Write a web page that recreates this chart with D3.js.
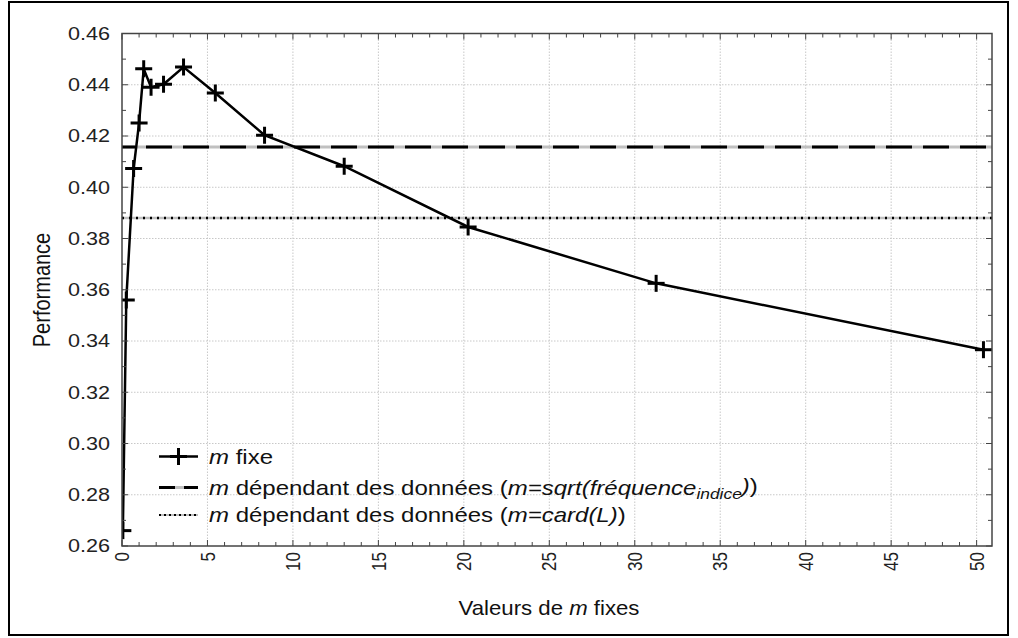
<!DOCTYPE html>
<html>
<head>
<meta charset="utf-8">
<script src="https://cdn.jsdelivr.net/npm/d3@7"></script>
<style>
  html, body { margin: 0; padding: 0; background: #fff; }
  svg { display: block; font-family: "Liberation Sans", Arial, sans-serif; }
</style>
</head>
<body>
<svg id="chart" width="1018" height="638"></svg>
<script>
// Performance for fixed values of m
const mValues = [0.05, 0.25, 0.68, 1.0, 1.27, 1.7, 2.43, 3.6, 5.46, 8.34, 13.0, 20.25, 31.25, 50.4];
const perfValues = [0.266, 0.356, 0.4073, 0.4251, 0.4462, 0.439, 0.4402, 0.4469, 0.4368, 0.4203, 0.4082, 0.3845, 0.3625, 0.3366];

// Data-dependent m: reference levels
const perfSqrt = 0.4157;
const perfCard = 0.388;

const xTicks = [0, 5, 10, 15, 20, 25, 30, 35, 40, 45, 50];
const yTicks = [0.26, 0.28, 0.30, 0.32, 0.34, 0.36, 0.38, 0.40, 0.42, 0.44, 0.46];

(function () {
const svg = d3.select("#chart");
// text in this figure is drawn slightly wide
const WIDE = 1.2;

// outer frame
svg.append("rect").attr("x", 9).attr("y", 2).attr("width", 999).attr("height", 633)
  .attr("fill", "#fff").attr("stroke", "#000").attr("stroke-width", 2);

const pLeft = 122, pRight = 992, pTop = 33.5, pBottom = 546;
const x = d3.scaleLinear().domain([0, 50.9]).range([pLeft, pRight]);
const y = d3.scaleLinear().domain([0.26, 0.46]).range([pBottom, pTop]);

// grid
const grid = svg.append("g");
grid.selectAll("line.gx").data(xTicks.slice(1)).join("line")
  .attr("x1", d => x(d)).attr("x2", d => x(d)).attr("y1", pTop).attr("y2", pBottom)
  .attr("stroke", "#c8c8c8").attr("stroke-width", 1).attr("stroke-dasharray", "1.5,1.5");
grid.selectAll("line.gy").data(yTicks.slice(1, -1)).join("line")
  .attr("y1", d => y(d)).attr("y2", d => y(d)).attr("x1", pLeft).attr("x2", pRight)
  .attr("stroke", "#c8c8c8").attr("stroke-width", 1).attr("stroke-dasharray", "1.5,1.5");

svg.append("clipPath").attr("id", "plotclip").append("rect")
  .attr("x", pLeft).attr("y", pTop).attr("width", pRight - pLeft).attr("height", pBottom - pTop);

const plot = svg.append("g").attr("clip-path", "url(#plotclip)");

// data-dependent m = sqrt(fréquence) : dashed
plot.append("line").attr("x1", pLeft).attr("x2", pRight).attr("y1", y(perfSqrt)).attr("y2", y(perfSqrt))
  .attr("stroke", "#c0c0c0").attr("stroke-width", 3);
plot.append("line").attr("x1", pLeft).attr("x2", pRight).attr("y1", y(perfSqrt)).attr("y2", y(perfSqrt))
  .attr("stroke", "#000").attr("stroke-width", 3).attr("stroke-dasharray", "26,11").attr("stroke-dashoffset", 13);

// data-dependent m = card(L) : dotted
plot.append("line").attr("x1", pLeft).attr("x2", pRight).attr("y1", y(perfCard)).attr("y2", y(perfCard))
  .attr("stroke", "#c0c0c0").attr("stroke-width", 2.5);
plot.append("line").attr("x1", pLeft).attr("x2", pRight).attr("y1", y(perfCard)).attr("y2", y(perfCard))
  .attr("stroke", "#000").attr("stroke-width", 2.5).attr("stroke-dasharray", "2,5");

// fixed m : line with plus markers
const pts = mValues.map((m, i) => [m, perfValues[i]]);
plot.append("path").datum(pts)
  .attr("d", d3.line().x(d => x(d[0])).y(d => y(d[1])))
  .attr("fill", "none").attr("stroke", "#000").attr("stroke-width", 2.5);
const markers = plot.selectAll("g.mk").data(pts).join("g")
  .attr("transform", d => `translate(${x(d[0])},${y(d[1])})`);
markers.append("line").attr("x1", -8.5).attr("x2", 8.5).attr("stroke", "#000").attr("stroke-width", 3);
markers.append("line").attr("y1", -8.5).attr("y2", 8.5).attr("stroke", "#000").attr("stroke-width", 3);

// axes frame with inward ticks on all sides
const frameColor = "#444";
svg.append("rect").attr("x", pLeft).attr("y", pTop).attr("width", pRight - pLeft).attr("height", pBottom - pTop)
  .attr("fill", "none").attr("stroke", frameColor).attr("stroke-width", 1.5);

const xMinor = d3.range(0, 51, 1);
const yMinor = d3.range(0, 21).map(i => 0.26 + i * 0.01);
const tickG = svg.append("g").attr("stroke", frameColor).attr("stroke-width", 1);
tickG.selectAll("line.xb").data(xMinor).join("line")
  .attr("x1", d => x(d)).attr("x2", d => x(d)).attr("y1", pBottom).attr("y2", d => pBottom - (d % 5 === 0 ? 6 : 4));
tickG.selectAll("line.xt").data(xMinor).join("line")
  .attr("x1", d => x(d)).attr("x2", d => x(d)).attr("y1", pTop).attr("y2", d => pTop + (d % 5 === 0 ? 6 : 4));
tickG.selectAll("line.yl").data(yMinor).join("line")
  .attr("y1", d => y(d)).attr("y2", d => y(d)).attr("x1", pLeft).attr("x2", (d, i) => pLeft + (i % 2 === 0 ? 6 : 4));
tickG.selectAll("line.yr").data(yMinor).join("line")
  .attr("y1", d => y(d)).attr("y2", d => y(d)).attr("x1", pRight).attr("x2", (d, i) => pRight - (i % 2 === 0 ? 6 : 4));

// tick labels
svg.append("g").selectAll("text").data(yTicks).join("text")
  .attr("transform", d => `translate(110,${y(d)}) scale(${WIDE},1)`)
  .attr("dy", "0.35em")
  .attr("text-anchor", "end").attr("font-size", 18).attr("fill", "#222")
  .text(d => d.toFixed(2));
svg.append("g").selectAll("text").data(xTicks).join("text")
  .attr("transform", d => `translate(${x(d)},552) scale(${WIDE},1) rotate(-90)`)
  .attr("dy", "0.35em").attr("text-anchor", "end").attr("font-size", 17).attr("fill", "#222")
  .text(d => d);

// axis titles
const xt = svg.append("text").attr("transform", "translate(549,615) scale(1.11,1)").attr("text-anchor", "middle")
  .attr("font-size", 20).attr("fill", "#111");
xt.append("tspan").text("Valeurs de ");
xt.append("tspan").attr("font-style", "italic").text("m");
xt.append("tspan").text(" fixes");

svg.append("text").attr("transform", `translate(42,290) scale(${WIDE},1) rotate(-90)`).attr("text-anchor", "middle")
  .attr("dy", "0.35em").attr("font-size", 20).attr("fill", "#111").text("Performance");

// legend
const lg = svg.append("g");
const lx0 = 159, lx1 = 198, tx = 209;
const rows = [456.5, 487.5, 515];

lg.append("line").attr("x1", lx0).attr("x2", lx1).attr("y1", rows[0]).attr("y2", rows[0])
  .attr("stroke", "#000").attr("stroke-width", 2.5);
lg.append("line").attr("x1", (lx0 + lx1) / 2 - 8.5).attr("x2", (lx0 + lx1) / 2 + 8.5).attr("y1", rows[0]).attr("y2", rows[0])
  .attr("stroke", "#000").attr("stroke-width", 3);
lg.append("line").attr("x1", (lx0 + lx1) / 2).attr("x2", (lx0 + lx1) / 2).attr("y1", rows[0] - 8.5).attr("y2", rows[0] + 8.5)
  .attr("stroke", "#000").attr("stroke-width", 3);

lg.append("line").attr("x1", lx0).attr("x2", lx1).attr("y1", rows[1]).attr("y2", rows[1])
  .attr("stroke", "#c0c0c0").attr("stroke-width", 3);
lg.append("line").attr("x1", lx0).attr("x2", lx1).attr("y1", rows[1]).attr("y2", rows[1])
  .attr("stroke", "#000").attr("stroke-width", 3).attr("stroke-dasharray", "16,9");

lg.append("line").attr("x1", lx0).attr("x2", lx1).attr("y1", rows[2]).attr("y2", rows[2])
  .attr("stroke", "#c0c0c0").attr("stroke-width", 2);
lg.append("line").attr("x1", lx0).attr("x2", lx1).attr("y1", rows[2]).attr("y2", rows[2])
  .attr("stroke", "#000").attr("stroke-width", 2).attr("stroke-dasharray", "2,3");

const fs = 20;
function legendText(row) {
  return lg.append("text").attr("transform", `translate(${tx},${row}) scale(${WIDE},1)`)
    .attr("dy", "0.35em").attr("font-size", fs).attr("fill", "#111");
}
const t1 = legendText(rows[0]);
t1.append("tspan").attr("font-style", "italic").text("m");
t1.append("tspan").text(" fixe");

const t2 = legendText(rows[1]);
t2.append("tspan").attr("font-style", "italic").text("m");
t2.append("tspan").text(" dépendant des données (");
t2.append("tspan").attr("font-style", "italic").text("m=sqrt(fréquence");
t2.append("tspan").attr("font-style", "italic").attr("font-size", 14.5).attr("dy", "0.3em").text("indice");
t2.append("tspan").attr("font-style", "italic").attr("dy", "-0.3em").text(")");
t2.append("tspan").text(")");

const t3 = legendText(rows[2]);
t3.append("tspan").attr("font-style", "italic").text("m");
t3.append("tspan").text(" dépendant des données (");
t3.append("tspan").attr("font-style", "italic").text("m=card(L)");
t3.append("tspan").text(")");
})();
</script>
</body>
</html>
